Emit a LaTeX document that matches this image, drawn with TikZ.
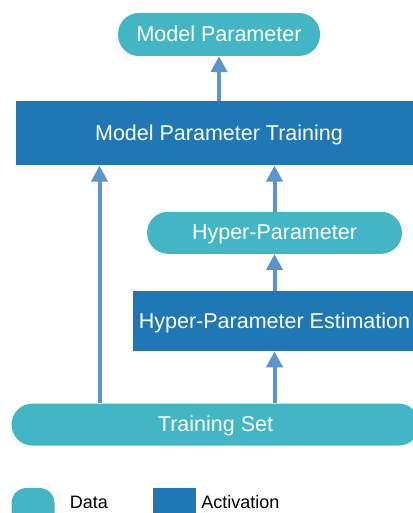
\documentclass[tikz,border=0pt]{standalone}
\usepackage{fontspec}
\setmainfont{Liberation Sans}
\usepackage{xcolor}
\definecolor{aqua}{HTML}{42B6C4}
\definecolor{deepblue}{HTML}{1F77B4}
\definecolor{linkblue}{HTML}{5B94CE}
\usepackage{tikz}
\usetikzlibrary{arrows.meta,positioning}
\tikzset{
    data_pill/.style={fill=aqua, rounded corners=21pt, text=white, inner sep=0pt, minimum height=42pt},
    act_box/.style={fill=deepblue, text=white, inner sep=0pt},
    key_text/.style={inner sep=0pt, font=\fontsize{18}{20}\selectfont, text=black, anchor=west}
}

\begin{document}
\begin{tikzpicture}[
    every node/.style={font=\fontsize{21.5}{24}\selectfont, text height=15.5pt, text depth=1.5pt},
    flow_arrow/.style={-{Triangle[length=16pt,width=16pt]}, line width=4pt, linkblue}
]
  \useasboundingbox (0,0) rectangle (412pt,513pt);

  % Top: trained output
  \node[data_pill, minimum width=202pt, minimum height=43pt] (mp_out) at (219pt,478.5pt) {Model Parameter};

  \node[act_box, below=45pt of mp_out, minimum width=406pt, minimum height=64pt] (mpt_step) {Model Parameter Training};

  % Hyper-parameter branch
  \node[data_pill, below=46pt of mpt_step, xshift=55.5pt, minimum width=255pt] (hp_out) {Hyper-Parameter};

  \node[act_box, below=37pt of hp_out, minimum width=284pt, minimum height=60pt] (hpe_step) {Hyper-Parameter Estimation};

  % Input data
  \node[data_pill, below=52pt of hpe_step, xshift=-59pt, minimum width=408pt] (ts_in) {Training Set};

  % Legend
  \node[fill=aqua, rounded corners=15pt, minimum size=43pt, inner sep=0pt, below right=42pt and 0pt of ts_in.south west] (key_data) {};
  \node[key_text, right=15pt of key_data, yshift=8pt] (key_data_lbl) {Data};
  \node[fill=deepblue, minimum size=43pt, inner sep=0pt, right=98pt of key_data] (key_act) {};
  \node[key_text, right=5pt of key_act, yshift=8pt] (key_act_lbl) {Activation};

  % Data flow
  \coordinate (ts_left) at ([xshift=-116pt]ts_in.north);
  \draw[flow_arrow] (mpt_step.north) -- (mp_out.south);
  \draw[flow_arrow] (ts_left) -- (ts_left |- mpt_step.south);
  \draw[flow_arrow] (hp_out.north) -- (hp_out.north |- mpt_step.south);
  \draw[flow_arrow] (hpe_step.north) -- (hp_out.south);
  \draw[flow_arrow] (hpe_step.south |- ts_in.north) -- (hpe_step.south);

\end{tikzpicture}
\end{document}
